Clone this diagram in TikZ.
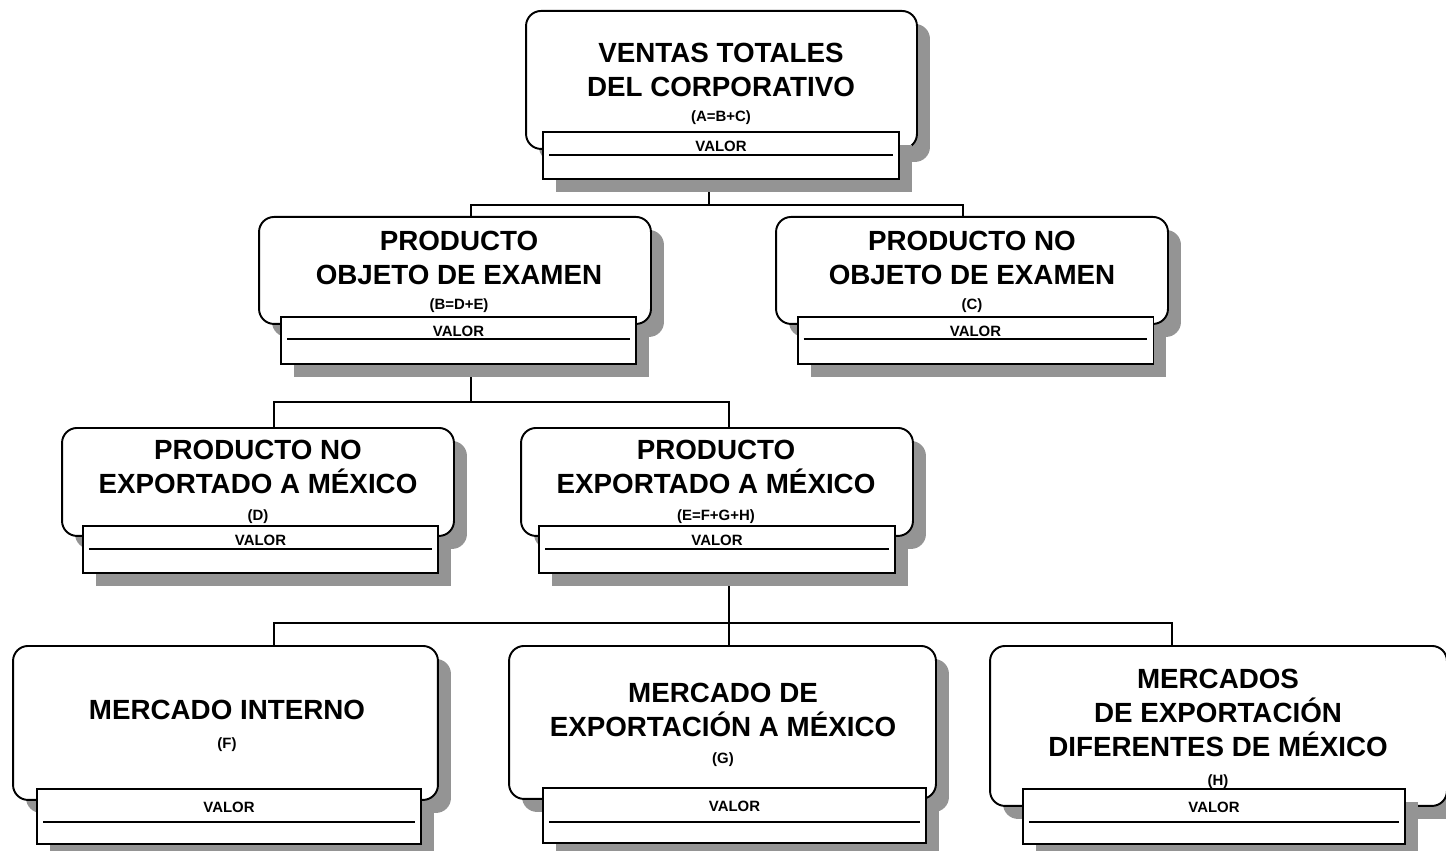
\documentclass[tikz,border=0pt]{standalone}
\usepackage{fontspec}
\setmainfont{Liberation Sans}
\usetikzlibrary{shadows,backgrounds}

\begin{document}
\begin{tikzpicture}[x=0.02cm,y=-0.02cm,
box/.style={draw,rounded corners=0.3cm,fill=white,line width=1.1pt,inner sep=0pt,anchor=north,
  drop shadow={shadow xshift=0.26cm,shadow yshift=-0.26cm,fill=black!42,opacity=1}},
val/.style={draw,fill=white,line width=1.1pt,anchor=north,inner xsep=0pt,inner ysep=0.175cm,
  text height=6pt,text depth=0.38cm,font=\fontsize{8.5}{10}\selectfont\bfseries,
  drop shadow={shadow xshift=0.26cm,shadow yshift=-0.26cm,fill=black!42,opacity=1}},
valbig/.style={val,inner ysep=0.255cm},
title/.style={anchor=north,inner sep=0pt,align=center,font=\fontsize{15.8}{19.4}\selectfont\bfseries},
link/.style={line width=0.9pt}
]
\clip (0,0) rectangle (1446,851);

\node[box,minimum width=7.82cm,minimum height=2.76cm] (A) at (721.5,10) {};
\node[val,minimum width=7.12cm] (Av) at (721,131) {VALOR};
\node[title] (At) at (721,43) {VENTAS TOTALES\\DEL CORPORATIVO\\[-5.2pt]{\fontsize{8.5}{10}\selectfont(A=B+C)}};

\node[box,minimum width=7.84cm,minimum height=2.14cm] (B) at (455,216) {};
\node[val,minimum width=7.1cm] (Bv) at (458.5,316) {VALOR};
\node[title] (Bt) at (459,231) {PRODUCTO\\OBJETO DE EXAMEN\\[-5.2pt]{\fontsize{8.5}{10}\selectfont(B=D+E)}};

\node[box,minimum width=7.84cm,minimum height=2.14cm] (C) at (972,216) {};
\node[val,minimum width=7.12cm] (Cv) at (975.5,316) {VALOR};
\node[title] (Ct) at (972,231) {PRODUCTO NO\\OBJETO DE EXAMEN\\[-5.2pt]{\fontsize{8.5}{10}\selectfont(C)}};

\node[box,minimum width=7.84cm,minimum height=2.16cm] (D) at (258,427) {};
\node[val,minimum width=7.1cm] (Dv) at (260.5,525) {VALOR};
\node[title] (Dt) at (258,440) {PRODUCTO NO\\EXPORTADO A MÉXICO\\[-4pt]{\fontsize{8.5}{10}\selectfont(D)}};

\node[box,minimum width=7.84cm,minimum height=2.16cm] (E) at (717,427) {};
\node[val,minimum width=7.12cm] (Ev) at (717,525) {VALOR};
\node[title] (Et) at (716,440) {PRODUCTO\\EXPORTADO A MÉXICO\\[-4pt]{\fontsize{8.5}{10}\selectfont(E=F+G+H)}};

\node[box,minimum width=8.5cm,minimum height=3.08cm] (F) at (225.5,645) {};
\node[valbig,minimum width=7.68cm] (Fv) at (229,788) {VALOR};
\node[title] (Ft) at (227,700) {MERCADO INTERNO\\[-3pt]{\fontsize{8.5}{10}\selectfont(F)}};

\node[box,minimum width=8.54cm,minimum height=3.06cm] (G) at (722.5,645) {};
\node[valbig,minimum width=7.66cm] (Gv) at (734.5,787) {VALOR};
\node[title] (Gt) at (723,683) {MERCADO DE\\EXPORTACIÓN A MÉXICO\\[-4pt]{\fontsize{8.5}{10}\selectfont(G)}};

\node[box,minimum width=9.14cm,minimum height=3.2cm] (H) at (1218.5,645) {};
\node[valbig,minimum width=7.64cm] (Hv) at (1214,788) {VALOR};
\node[title] (Ht) at (1218,669) {MERCADOS\\DE EXPORTACIÓN\\DIFERENTES DE MÉXICO\\[-3pt]{\fontsize{8.5}{10}\selectfont(H)}};

\foreach \n/\d in {Av/24,Bv/23,Cv/23,Dv/24,Ev/24,Fv/34,Gv/35,Hv/34}
  \draw[line width=0.9pt] ([shift={(7,\d)}]\n.north west) -- ([shift={(-7,\d)}]\n.north east);

\begin{pgfonlayer}{background}
\coordinate (ab) at (709,205);
\coordinate (bd) at (471,402);
\coordinate (eh) at (729,623);
\draw[link] (ab |- Av.south) -- (ab);
\draw[link] ([xshift=0.32cm]B.north) |- (ab) -| ([xshift=-0.18cm]C.north);
\draw[link] (bd |- Bv.south) -- (bd);
\draw[link] ([xshift=0.32cm]D.north) |- (bd) -| ([xshift=0.24cm]E.north);
\draw[link] (eh |- Ev.south) -- (eh);
\draw[link] ([xshift=0.97cm]F.north) |- (eh) -| ([xshift=-0.93cm]H.north);
\draw[link] (eh |- G.north) -- (eh);
\end{pgfonlayer}
\end{tikzpicture}
\end{document}
